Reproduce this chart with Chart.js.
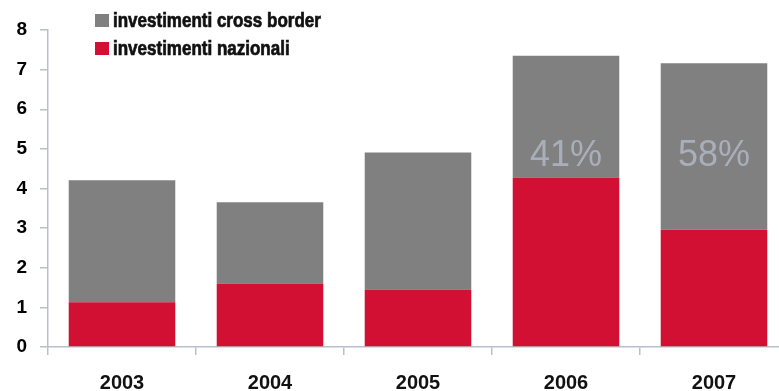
<!DOCTYPE html>
<html>
<head>
<meta charset="utf-8">
<script src="https://cdn.jsdelivr.net/npm/chart.js@4"></script>
<style>
  html, body { margin: 0; padding: 0; background: #fff; overflow: hidden; }
  canvas { display: block; }
</style>
</head>
<body>
<canvas id="investimenti" width="790" height="391"></canvas>
<script>
  // Investimenti per anno (miliardi), stacked: nazionali sotto, cross border sopra
  var YEARS = ["2003", "2004", "2005", "2006", "2007"];
  var NAZIONALI = [1.13, 1.60, 1.45, 4.28, 2.96];
  var CROSS_BORDER = [3.08, 2.05, 3.46, 3.07, 4.20];
  var SHARE_LABELS = ["", "", "", "41%", "58%"];
  var SERIES_NAMES = ["investimenti nazionali", "investimenti cross border"];

  var RED = "#d21033";
  var GREY = "#808080";
  var AXIS = "#b9bfc8";
  var SANS = "'Liberation Sans', Arial, sans-serif";

  // quota cross border scritta dentro le barre
  var shareLabels = {
    id: "shareLabels",
    afterDatasetsDraw: function (chart) {
      var meta = chart.getDatasetMeta(1);
      var y = chart.scales.y.getPixelForValue(4.9);
      var ctx = chart.ctx;
      ctx.save();
      ctx.font = "36px " + SANS;
      ctx.fillStyle = "#a9afba";
      ctx.textAlign = "center";
      ctx.textBaseline = "alphabetic";
      SHARE_LABELS.forEach(function (txt, i) {
        if (!txt) return;
        ctx.fillText(txt, meta.data[i].x, y + 13);
      });
      ctx.restore();
    }
  };

  // legenda verticale in alto (cross border prima), testo bold stretto
  var stackedLegend = {
    id: "stackedLegend",
    afterDraw: function (chart) {
      var ctx = chart.ctx;
      var sets = chart.data.datasets.slice().reverse();
      ctx.save();
      ctx.font = "bold 20px " + SANS;
      ctx.textBaseline = "alphabetic";
      ctx.textAlign = "left";
      sets.forEach(function (ds, i) {
        var base = 27 + i * 28;
        ctx.fillStyle = ds.backgroundColor;
        ctx.fillRect(95, base - 13, 14, 13);
        ctx.save();
        ctx.translate(113, base);
        ctx.scale(0.85, 1);
        ctx.fillStyle = "#111";
        ctx.strokeStyle = "#111";
        ctx.lineWidth = 0.7;
        ctx.fillText(ds.label, 0, 0);
        ctx.strokeText(ds.label, 0, 0);
        ctx.restore();
      });
      ctx.restore();
    }
  };

  new Chart(document.getElementById("investimenti"), {
    type: "bar",
    data: {
      labels: YEARS,
      datasets: [
        { label: SERIES_NAMES[0], data: NAZIONALI, backgroundColor: RED, borderWidth: 0 },
        { label: SERIES_NAMES[1], data: CROSS_BORDER, backgroundColor: GREY, borderWidth: 0 }
      ]
    },
    options: {
      responsive: false,
      animation: false,
      layout: { padding: { top: 30, right: 2, left: 0, bottom: 0 } },
      categoryPercentage: 0.72,
      barPercentage: 1,
      plugins: {
        legend: { display: false },
        tooltip: { enabled: false }
      },
      scales: {
        x: {
          stacked: true,
          border: { color: AXIS, width: 1.5 },
          grid: { drawOnChartArea: false, drawTicks: true, tickLength: 8, color: AXIS, lineWidth: 1.5 },
          ticks: { color: "#111", padding: 16, font: { family: SANS, size: 20, weight: "bold" } },
          afterFit: function (scale) { scale.height = 44; }
        },
        y: {
          stacked: true,
          min: 0,
          max: 8,
          border: { color: AXIS, width: 1.5 },
          grid: { drawOnChartArea: false, drawTicks: true, tickLength: 8, color: AXIS, lineWidth: 1.5 },
          ticks: { stepSize: 1, color: "#000", padding: 13, font: { family: SANS, size: 19, weight: "bold" } },
          afterFit: function (scale) { scale.width = 48; }
        }
      }
    },
    plugins: [shareLabels, stackedLegend]
  });
</script>
</body>
</html>
